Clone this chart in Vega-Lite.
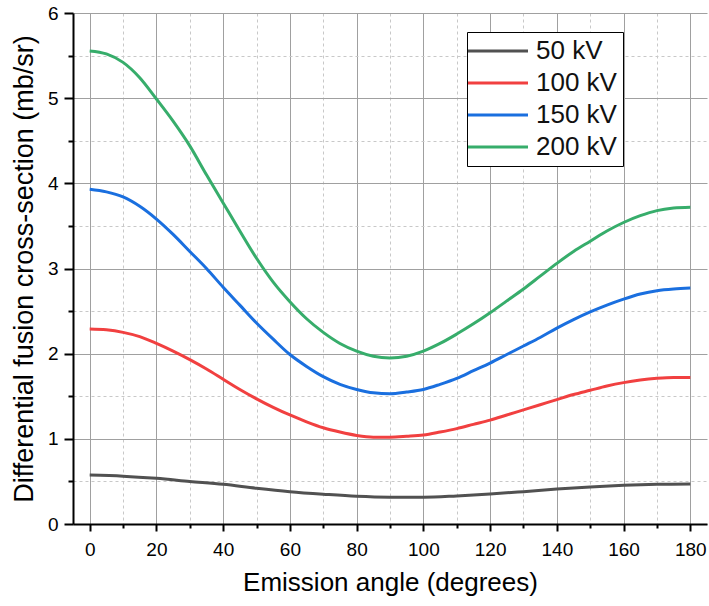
{
  "$schema": "https://vega.github.io/schema/vega-lite/v6.json",
  "width": 634,
  "height": 511,
  "autosize": {"type": "none"},
  "padding": {"left": 73, "top": 13, "right": 2, "bottom": 82},
  "background": "white",
  "config": {
    "view": {"stroke": null},
    "font": "Liberation Sans",
    "axis": {"labelFont": "Liberation Sans", "titleFont": "Liberation Sans", "labelColor": "black", "titleColor": "black", "titleFontWeight": "normal"}
  },
  "data": {"values": [
    {"s":"200 kV","a":0,"v":5.555},{"s":"200 kV","a":5,"v":5.52},{"s":"200 kV","a":10,"v":5.42},{"s":"200 kV","a":15,"v":5.24},{"s":"200 kV","a":20,"v":4.99},{"s":"200 kV","a":25,"v":4.73},{"s":"200 kV","a":30,"v":4.44},{"s":"200 kV","a":35,"v":4.10},{"s":"200 kV","a":40,"v":3.77},{"s":"200 kV","a":45,"v":3.44},{"s":"200 kV","a":50,"v":3.12},{"s":"200 kV","a":55,"v":2.84},{"s":"200 kV","a":60,"v":2.61},{"s":"200 kV","a":65,"v":2.41},{"s":"200 kV","a":70,"v":2.25},{"s":"200 kV","a":75,"v":2.12},{"s":"200 kV","a":80,"v":2.03},{"s":"200 kV","a":85,"v":1.97},{"s":"200 kV","a":90,"v":1.95},{"s":"200 kV","a":95,"v":1.97},{"s":"200 kV","a":100,"v":2.03},{"s":"200 kV","a":105,"v":2.12},{"s":"200 kV","a":110,"v":2.23},{"s":"200 kV","a":115,"v":2.35},{"s":"200 kV","a":120,"v":2.48},{"s":"200 kV","a":125,"v":2.62},{"s":"200 kV","a":130,"v":2.76},{"s":"200 kV","a":135,"v":2.91},{"s":"200 kV","a":140,"v":3.06},{"s":"200 kV","a":145,"v":3.20},{"s":"200 kV","a":150,"v":3.32},{"s":"200 kV","a":155,"v":3.44},{"s":"200 kV","a":160,"v":3.54},{"s":"200 kV","a":165,"v":3.62},{"s":"200 kV","a":170,"v":3.68},{"s":"200 kV","a":175,"v":3.71},{"s":"200 kV","a":180,"v":3.72},
    {"s":"150 kV","a":0,"v":3.93},{"s":"150 kV","a":5,"v":3.90},{"s":"150 kV","a":10,"v":3.84},{"s":"150 kV","a":15,"v":3.73},{"s":"150 kV","a":20,"v":3.58},{"s":"150 kV","a":25,"v":3.40},{"s":"150 kV","a":30,"v":3.20},{"s":"150 kV","a":35,"v":3.00},{"s":"150 kV","a":40,"v":2.78},{"s":"150 kV","a":45,"v":2.57},{"s":"150 kV","a":50,"v":2.36},{"s":"150 kV","a":55,"v":2.17},{"s":"150 kV","a":60,"v":1.99},{"s":"150 kV","a":65,"v":1.85},{"s":"150 kV","a":70,"v":1.73},{"s":"150 kV","a":75,"v":1.64},{"s":"150 kV","a":80,"v":1.58},{"s":"150 kV","a":85,"v":1.54},{"s":"150 kV","a":90,"v":1.53},{"s":"150 kV","a":95,"v":1.55},{"s":"150 kV","a":100,"v":1.58},{"s":"150 kV","a":105,"v":1.64},{"s":"150 kV","a":110,"v":1.71},{"s":"150 kV","a":115,"v":1.80},{"s":"150 kV","a":120,"v":1.89},{"s":"150 kV","a":125,"v":1.99},{"s":"150 kV","a":130,"v":2.09},{"s":"150 kV","a":135,"v":2.19},{"s":"150 kV","a":140,"v":2.30},{"s":"150 kV","a":145,"v":2.40},{"s":"150 kV","a":150,"v":2.49},{"s":"150 kV","a":155,"v":2.57},{"s":"150 kV","a":160,"v":2.64},{"s":"150 kV","a":165,"v":2.70},{"s":"150 kV","a":170,"v":2.74},{"s":"150 kV","a":175,"v":2.76},{"s":"150 kV","a":180,"v":2.77},
    {"s":"100 kV","a":0,"v":2.29},{"s":"100 kV","a":5,"v":2.28},{"s":"100 kV","a":10,"v":2.25},{"s":"100 kV","a":15,"v":2.20},{"s":"100 kV","a":20,"v":2.12},{"s":"100 kV","a":25,"v":2.03},{"s":"100 kV","a":30,"v":1.93},{"s":"100 kV","a":35,"v":1.82},{"s":"100 kV","a":40,"v":1.70},{"s":"100 kV","a":45,"v":1.58},{"s":"100 kV","a":50,"v":1.47},{"s":"100 kV","a":55,"v":1.37},{"s":"100 kV","a":60,"v":1.28},{"s":"100 kV","a":65,"v":1.20},{"s":"100 kV","a":70,"v":1.13},{"s":"100 kV","a":75,"v":1.08},{"s":"100 kV","a":80,"v":1.04},{"s":"100 kV","a":85,"v":1.02},{"s":"100 kV","a":90,"v":1.02},{"s":"100 kV","a":95,"v":1.03},{"s":"100 kV","a":100,"v":1.045},{"s":"100 kV","a":105,"v":1.08},{"s":"100 kV","a":110,"v":1.12},{"s":"100 kV","a":115,"v":1.17},{"s":"100 kV","a":120,"v":1.22},{"s":"100 kV","a":125,"v":1.28},{"s":"100 kV","a":130,"v":1.34},{"s":"100 kV","a":135,"v":1.40},{"s":"100 kV","a":140,"v":1.46},{"s":"100 kV","a":145,"v":1.52},{"s":"100 kV","a":150,"v":1.57},{"s":"100 kV","a":155,"v":1.62},{"s":"100 kV","a":160,"v":1.66},{"s":"100 kV","a":165,"v":1.69},{"s":"100 kV","a":170,"v":1.71},{"s":"100 kV","a":175,"v":1.72},{"s":"100 kV","a":180,"v":1.72},
    {"s":"50 kV","a":0,"v":0.575},{"s":"50 kV","a":10,"v":0.562},{"s":"50 kV","a":20,"v":0.536},{"s":"50 kV","a":30,"v":0.50},{"s":"50 kV","a":40,"v":0.466},{"s":"50 kV","a":50,"v":0.42},{"s":"50 kV","a":60,"v":0.38},{"s":"50 kV","a":70,"v":0.35},{"s":"50 kV","a":80,"v":0.325},{"s":"50 kV","a":90,"v":0.315},{"s":"50 kV","a":100,"v":0.315},{"s":"50 kV","a":110,"v":0.33},{"s":"50 kV","a":120,"v":0.352},{"s":"50 kV","a":130,"v":0.38},{"s":"50 kV","a":140,"v":0.41},{"s":"50 kV","a":150,"v":0.435},{"s":"50 kV","a":160,"v":0.454},{"s":"50 kV","a":170,"v":0.466},{"s":"50 kV","a":180,"v":0.47}
  ]},
  "mark": {"type": "line", "strokeWidth": 3, "interpolate": "monotone"},
  "encoding": {
    "x": {
      "field": "a", "type": "quantitative",
      "scale": {"domain": [-5, 185], "nice": false, "zero": false},
      "axis": {
        "title": "Emission angle (degrees)",
        "titleFontSize": 26, "titlePadding": 10,
        "values": [0,10,20,30,40,50,60,70,80,90,100,110,120,130,140,150,160,170,180],
        "labelExpr": "datum.value % 20 === 0 ? format(datum.value, 'd') : ''",
        "labelFontSize": 19, "labelPadding": 9,
        "domainColor": "black", "domainWidth": 2,
        "tickColor": "black", "tickWidth": 2,
        "tickSize": {"condition": {"test": "datum.value % 20 !== 0", "value": 4}, "value": 7},
        "grid": true,
        "gridColor": {"condition": {"test": "datum.value % 20 !== 0", "value": "#c8c8c8"}, "value": "#a0a0a0"},
        "gridDash": {"condition": {"test": "datum.value % 20 !== 0", "value": [3, 3]}, "value": []},
        "gridWidth": 1
      }
    },
    "y": {
      "field": "v", "type": "quantitative",
      "scale": {"domain": [0, 6], "nice": false},
      "axis": {
        "title": "Differential fusion cross-section (mb/sr)",
        "titleFontSize": 27, "titlePadding": 9,
        "values": [0,0.5,1,1.5,2,2.5,3,3.5,4,4.5,5,5.5,6],
        "labelExpr": "datum.value % 1 === 0 ? format(datum.value, 'd') : ''",
        "labelFontSize": 19, "labelPadding": 6,
        "domainColor": "black", "domainWidth": 2,
        "tickColor": "black", "tickWidth": 2,
        "tickSize": {"condition": {"test": "datum.value % 1 !== 0", "value": 5}, "value": 9},
        "grid": true,
        "gridColor": {"condition": {"test": "datum.value % 1 !== 0", "value": "#c8c8c8"}, "value": "#a0a0a0"},
        "gridDash": {"condition": {"test": "datum.value % 1 !== 0", "value": [3, 3]}, "value": []},
        "gridWidth": 1
      }
    },
    "color": {
      "field": "s", "type": "nominal",
      "scale": {"domain": ["50 kV", "100 kV", "150 kV", "200 kV"], "range": ["#515151", "#F14040", "#1A6FDF", "#37AD6B"]},
      "legend": {
        "title": null, "orient": "none", "legendX": 394, "legendY": 19,
        "symbolType": "M-3,0H3", "symbolStrokeWidth": 3, "symbolSize": 400,
        "symbolOffset": 12, "labelOffset": 25,
        "labelFontSize": 26, "labelFont": "Liberation Sans", "labelColor": "#111111",
        "strokeColor": "black", "fillColor": "white", "padding": 6,
        "rowPadding": 6
      }
    }
  }
}
